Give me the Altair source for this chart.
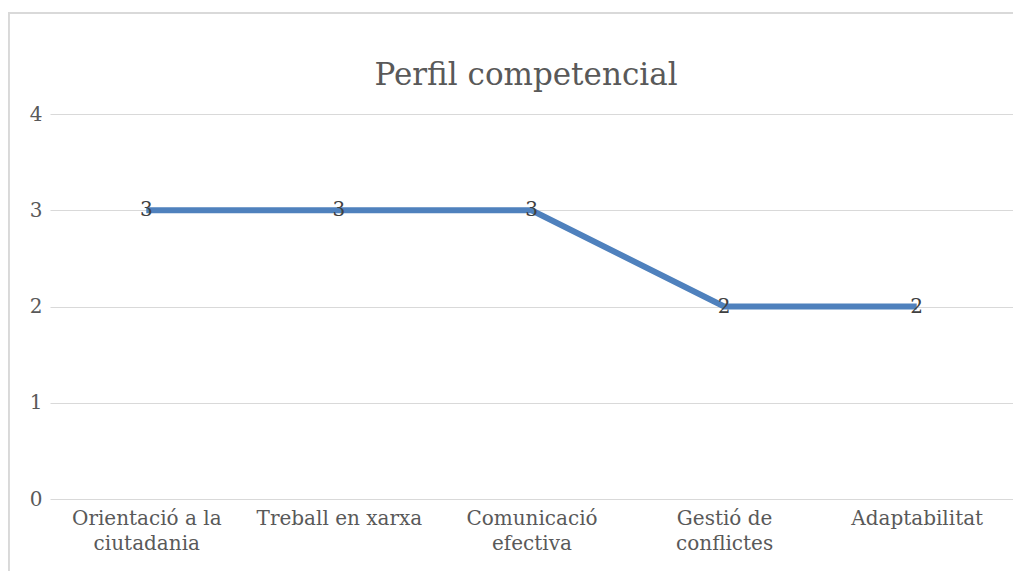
import altair as alt
import pandas as pd

categories = ["Orientació a la ciutadania", "Treball en xarxa", "Comunicació efectiva",
              "Gestió de conflictes", "Adaptabilitat"]
label_lines = [["Orientació a la", "ciutadania"], ["Treball en xarxa"], ["Comunicació", "efectiva"],
               ["Gestió de", "conflictes"], ["Adaptabilitat"]]
values = [3, 3, 3, 2, 2]
y_ticks = [0, 1, 2, 3, 4]
title_text = "Perfil competencial"

df = pd.DataFrame({"cat": categories, "val": values})
title_df = pd.DataFrame({"t": [title_text]})

FONT = "DejaVu Serif"
label_expr = ""
for c, lines in zip(categories, label_lines):
    arr = "[" + ",".join("'" + l + "'" for l in lines) + "]"
    label_expr += f"datum.value == '{c}' ? {arr} : "
label_expr += "datum.label"

x_enc = alt.X("cat:N", sort=categories, title=None,
              scale=alt.Scale(type="point", padding=0.5),
              axis=alt.Axis(labelAngle=0, labelAlign="center", labelBaseline="top",
                            labelLineHeight=25, labelPadding=9, ticks=False, domain=False,
                            grid=False, labelExpr=label_expr, labelFont=FONT,
                            labelFontSize=20, labelColor="#595959"))
y_enc = alt.Y("val:Q", title=None, scale=alt.Scale(domain=[0, 4], nice=False),
              axis=alt.Axis(values=y_ticks, ticks=False, domain=False, grid=True,
                            gridColor="#D9D9D9", gridWidth=1, labelPadding=8,
                            labelFont=FONT, labelFontSize=20, labelColor="#595959"))

base = alt.Chart(df)
line = base.mark_line(color="#4F81BD", strokeWidth=6).encode(x=x_enc, y=y_enc)
text = base.mark_text(font=FONT, fontSize=20, color="#404040", align="center",
                      baseline="middle").encode(x=x_enc, y=y_enc, text="val:Q")
border_left = base.mark_rule(color="#D9D9D9", strokeWidth=1.5).encode(
    x=alt.value(-41.25), y=alt.value(-101), y2=alt.value(600))
border_top = base.mark_rule(color="#D9D9D9", strokeWidth=1.5).encode(
    x=alt.value(-42), x2=alt.value(1000), y=alt.value(-101))
title = alt.Chart(title_df).mark_text(font=FONT, fontSize=31, color="#595959",
                                      align="center", baseline="alphabetic").encode(
    x=alt.value(476), y=alt.value(-29), text="t:N")

chart = alt.layer(border_left, border_top, line, text, title).properties(
    width=963, height=385,
    autosize=alt.AutoSizeParams(type="none"),
    padding={"left": 42, "top": 106, "right": 0, "bottom": 72},
).configure_view(stroke=None)

chart.save("out.html", embed_options={"renderer": "svg", "actions": False})
